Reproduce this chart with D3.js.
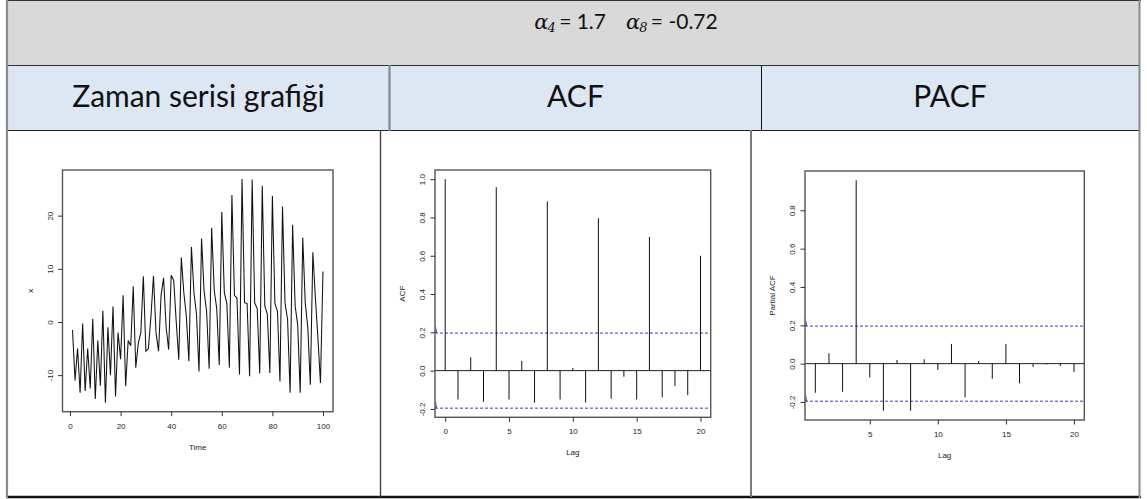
<!DOCTYPE html>
<html>
<head>
<meta charset="utf-8">
<script src="https://cdn.jsdelivr.net/npm/d3@7"></script>
<style>
  body { margin: 0; background: #fff; }
  svg { display: block; }
</style>
</head>
<body>
<svg id="chart" width="1147" height="499"></svg>
<script>
// ---- data ----
const paramNames = ["α", "α"];
const paramLags = ["4", "8"];
const paramValues = ["1.7", "-0.72"];
const columnTitles = ["Zaman serisi grafiği", "ACF", "PACF"];

// simulated seasonal AR series, t = 1..100
const seriesValues = [
  -1.5, -11, -5, -13.3, -0.3, -13, -5, -12.5, 0.6, -14.5,
  -3.5, -12, 2.1, -15.2, -1, -10, 2.9, -14, -2, -7,
  5, -12.1, -3.5, -4.5, 6.7, -8.6, -4, -2, 8.6, -5.5,
  -5, 1, 8.7, -2, -5.5, 5, 8.3, -1, -5.2, 8.8,
  7.8, 0, -7.1, 12.1, 5.5, 1, -7.4, 14.1, 5.5, 1.5,
  -9.3, 15.7, 5.8, 2, -8.8, 17.7, 6, 2.5, -8.1, 20.7,
  5.5, 3.5, -8.6, 23.9, 5, 4.5, -9.9, 26.9, 3.6, 3.5,
  -10.2, 26.8, 3.6, 2.5, -9.7, 25.6, 3, 1.5, -9.6, 23.7,
  3.5, 2, -11.2, 21.7, 3.5, 0.5, -13.3, 18.3, 3, -0.5,
  -13.3, 15.9, 3.5, -1, -11.8, 13.1, 4.5, -3, -11.5, 9.5
];
const seriesTicksX = [0, 20, 40, 60, 80, 100];
const seriesTicksY = [-10, 0, 10, 20];

const acfLags = [0, 1, 2, 3, 4, 5, 6, 7, 8, 9, 10, 11, 12, 13, 14, 15, 16, 17, 18, 19, 20];
const acfValues = [1.0, -0.151, 0.07, -0.163, 0.958, -0.151, 0.051, -0.167, 0.884, -0.151, 0.014,
                   -0.167, 0.796, -0.147, -0.032, -0.151, 0.698, -0.14, -0.081, -0.128, 0.6];
const acfTicksX = [0, 5, 10, 15, 20];
const acfTicksY = [-0.2, 0.0, 0.2, 0.4, 0.6, 0.8, 1.0];

const pacfLags = [1, 2, 3, 4, 5, 6, 7, 8, 9, 10, 11, 12, 13, 14, 15, 16, 17, 18, 19, 20];
const pacfValues = [-0.152, 0.054, -0.147, 0.957, -0.072, -0.246, 0.019, -0.246, 0.023, -0.033,
                    0.103, -0.176, 0.014, -0.079, 0.103, -0.103, -0.017, -0.004, -0.012, -0.044];
const pacfTicksX = [5, 10, 15, 20];
const pacfTicksY = [-0.2, 0.0, 0.2, 0.4, 0.6, 0.8];

const confLimit = 0.196; // 1.96 / sqrt(100)

// ---- helpers ----
const svg = d3.select("#chart");
const plotFont = "'Liberation Sans', Arial, sans-serif";
const headFont = "Lato, 'Open Sans', sans-serif";

// R-style padded range (4% each side)
function padded(lo, hi) {
  const d = (hi - lo) * 0.04;
  return [lo - d, hi + d];
}

function leftAxis(g, scale, ticks, fmt) {
  g.call(d3.axisLeft(scale).tickValues(ticks).tickSize(4.5).tickSizeOuter(0).tickFormat(fmt));
  g.select(".domain").remove();
  g.selectAll(".tick line").attr("stroke", "#333");
  g.selectAll(".tick text")
    .attr("transform", "rotate(-90)")
    .attr("x", 0).attr("y", -10).attr("dy", 0)
    .attr("text-anchor", "middle")
    .attr("fill", "#222")
    .style("font-family", plotFont).style("font-size", "8px");
}

function bottomAxis(g, scale, ticks, fmt) {
  g.call(d3.axisBottom(scale).tickValues(ticks).tickSize(4.5).tickSizeOuter(0).tickPadding(7).tickFormat(fmt));
  g.select(".domain").remove();
  g.selectAll(".tick line").attr("stroke", "#333");
  g.selectAll(".tick text")
    .attr("fill", "#222")
    .style("font-family", plotFont).style("font-size", "8px");
}

function frame(g, x0, y0, x1, y1) {
  g.append("rect")
    .attr("x", x0).attr("y", y0).attr("width", x1 - x0).attr("height", y1 - y0)
    .attr("fill", "none").attr("stroke", "#555").attr("stroke-width", 1.4);
}

function titles(g, box, xTitle, yTitle) {
  g.append("text")
    .attr("x", (box.x0 + box.x1) / 2).attr("y", box.y1 + 38)
    .attr("text-anchor", "middle")
    .style("font-family", plotFont).style("font-size", "8px").attr("fill", "#222")
    .text(xTitle);
  const cy = (box.y0 + box.y1) / 2;
  g.append("text")
    .attr("transform", `translate(${box.x0 - 30},${cy}) rotate(-90)`)
    .attr("text-anchor", "middle")
    .style("font-family", plotFont).style("font-size", "8px").attr("fill", "#222")
    .text(yTitle);
}

// ---- table ----
const table = svg.append("g");
table.append("rect").attr("x", 8).attr("y", 1).attr("width", 1131).attr("height", 64).attr("fill", "#d9d9d9");
table.append("rect").attr("x", 8).attr("y", 65).attr("width", 1131).attr("height", 65).attr("fill", "#dde7f3");

const hLine = (y, x0, x1, c, w) => table.append("line")
  .attr("x1", x0).attr("x2", x1).attr("y1", y).attr("y2", y).attr("stroke", c).attr("stroke-width", w);
const vLine = (x, y0, y1, c, w) => table.append("line")
  .attr("x1", x).attr("x2", x).attr("y1", y0).attr("y2", y1).attr("stroke", c).attr("stroke-width", w);

hLine(0.5, 6, 1141, "#333", 1.2);
hLine(65.5, 8, 1139, "#333", 1);
hLine(130.5, 8, 1139, "#222", 1);
hLine(497, 6, 1141, "#111", 2.5);
vLine(7, 0, 498, "#8a8a8a", 2.2);
vLine(1139.5, 0, 498, "#8a8a8a", 2);
vLine(389.5, 65, 131, "#7c8798", 2.2);
vLine(761.5, 65, 131, "#111", 1);
vLine(380.5, 130, 497, "#444", 1.4);
vLine(751, 130, 497, "#7a7a7a", 2);

// parameter line
const head = svg.append("text")
  .attr("x", 626).attr("y", 29)
  .attr("text-anchor", "middle")
  .style("font-family", headFont).style("font-size", "21px").attr("fill", "#111");
paramNames.forEach((nm, i) => {
  head.append("tspan").style("font-family", "'DejaVu Serif', serif").style("font-style", "italic")
    .attr("dx", i === 0 ? 0 : 20).text(nm);
  head.append("tspan").style("font-family", "'DejaVu Serif', serif").style("font-style", "italic")
    .style("font-size", "13px").attr("dy", 3).attr("dx", -1).text(paramLags[i]);
  head.append("tspan").attr("dy", -3).attr("dx", -2).text(" = " + paramValues[i]);
});

// column headers
const colCenters = [198.5, 575.5, 950];
svg.selectAll("text.colhead").data(columnTitles).join("text")
  .attr("class", "colhead")
  .attr("x", (d, i) => colCenters[i]).attr("y", 107)
  .attr("text-anchor", "middle")
  .style("font-family", headFont).style("font-size", "30px").attr("fill", "#111")
  .text(d => d);

// ---- time series panel ----
{
  const box = { x0: 62.5, x1: 333, y0: 170, y1: 411.7 };
  const g = svg.append("g");
  const times = seriesValues.map((v, i) => i + 1);
  const x = d3.scaleLinear().domain(padded(d3.min(times), d3.max(times))).range([box.x0, box.x1]);
  const y = d3.scaleLinear().domain(padded(d3.min(seriesValues), d3.max(seriesValues))).range([box.y1, box.y0]);

  g.append("path")
    .datum(seriesValues)
    .attr("fill", "none").attr("stroke", "#111").attr("stroke-width", 1.05)
    .attr("d", d3.line().x((d, i) => x(times[i])).y(d => y(d)));

  frame(g, box.x0, box.y0, box.x1, box.y1);
  leftAxis(g.append("g").attr("transform", `translate(${box.x0},0)`), y, seriesTicksY, d => String(d));
  bottomAxis(g.append("g").attr("transform", `translate(0,${box.y1})`), x, seriesTicksX, d => String(d));
  titles(g, box, "Time", "x");
}

// ---- correlogram panels ----
function correlogram(box, lags, vals, ticksX, ticksY, yTitle) {
  const g = svg.append("g");
  const x = d3.scaleLinear().domain(padded(d3.min(lags), d3.max(lags))).range([box.x0, box.x1]);
  const lo = Math.min(-confLimit, d3.min(vals));
  const hi = Math.max(confLimit, d3.max(vals));
  const y = d3.scaleLinear().domain(padded(lo, hi)).range([box.y1, box.y0]);

  // zero line
  g.append("line")
    .attr("x1", box.x0).attr("x2", box.x1).attr("y1", y(0)).attr("y2", y(0))
    .attr("stroke", "#222").attr("stroke-width", 1);

  // significance bounds
  [confLimit, -confLimit].forEach(c => {
    g.append("line")
      .attr("x1", box.x0).attr("x2", box.x1).attr("y1", y(c)).attr("y2", y(c))
      .attr("stroke", "#3a3acc").attr("stroke-width", 1).attr("stroke-dasharray", "3,2");
    g.append("path")
      .attr("d", `M${box.x0 + 0.5},${y(c)}L${box.x0 + 0.5},${y(c + 0.045)}L${box.x0 + 2.2},${y(c)}Z`)
      .attr("fill", "#4646c8");
  });

  // spikes
  g.selectAll("line.spike").data(vals).join("line")
    .attr("class", "spike")
    .attr("x1", (d, i) => x(lags[i])).attr("x2", (d, i) => x(lags[i]))
    .attr("y1", y(0)).attr("y2", d => y(d))
    .attr("stroke", "#111").attr("stroke-width", 1);

  frame(g, box.x0, box.y0, box.x1, box.y1);
  leftAxis(g.append("g").attr("transform", `translate(${box.x0},0)`), y, ticksY, d => d.toFixed(1));
  bottomAxis(g.append("g").attr("transform", `translate(0,${box.y1})`), x, ticksX, d => String(d));
  titles(g, box, "Lag", yTitle);
}

correlogram({ x0: 435, x1: 710.7, y0: 170, y1: 417.3 }, acfLags, acfValues, acfTicksX, acfTicksY, "ACF");
correlogram({ x0: 805, x1: 1084.3, y0: 171, y1: 420 }, pacfLags, pacfValues, pacfTicksX, pacfTicksY, "Partial ACF");
</script>
</body>
</html>
